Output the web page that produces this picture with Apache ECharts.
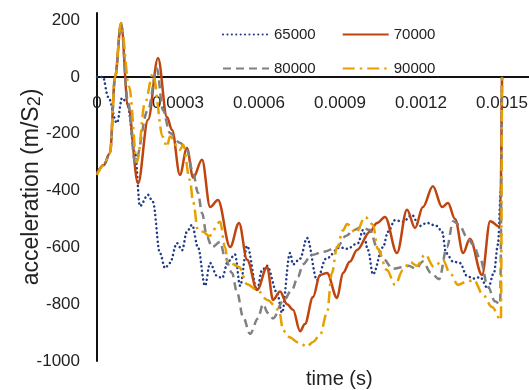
<!DOCTYPE html>
<html>
<head>
<meta charset="utf-8">
<script src="https://cdn.jsdelivr.net/npm/echarts@6/dist/echarts.min.js"></script>
<style>
html, body { margin: 0; padding: 0; background: #fff; }
#chart { width: 529px; height: 390px; }
</style>
</head>
<body>
<div id="chart"></div>
<script>
// [time (s), acceleration (m/s2)]
const s65000 = [
  [0, 0], [0.000022, 0], [0.000041, -70], [0.000074, -162], [0.000093, -74],
  [0.000111, -92], [0.000141, -268], [0.000159, -455], [0.000189, -415], [0.000207, -440],
  [0.000233, -620], [0.000252, -673], [0.00027, -655], [0.000296, -585], [0.000315, -610],
  [0.000333, -545], [0.000352, -521], [0.000374, -600], [0.0004, -735], [0.000419, -655],
  [0.000444, -700], [0.000463, -708], [0.000485, -650], [0.000511, -625], [0.00053, -735],
  [0.000556, -595], [0.000593, -750], [0.000611, -680], [0.00063, -665], [0.000667, -760],
  [0.000685, -830], [0.000715, -620], [0.000726, -660], [0.000752, -640], [0.000778, -567],
  [0.000815, -715], [0.000848, -640], [0.0009, -600], [0.000926, -605], [0.000967, -585],
  [0.000985, -539], [0.001004, -610], [0.001022, -695], [0.001059, -600], [0.001078, -545],
  [0.001104, -504], [0.001133, -510], [0.001167, -486], [0.001193, -525], [0.001222, -514],
  [0.001259, -525], [0.001278, -545], [0.001293, -620], [0.001319, -650], [0.001344, -655],
  [0.00137, -700], [0.001393, -710], [0.001419, -705], [0.001448, -745], [0.00147, -690],
  [0.001485, -590], [0.001496, -400], [0.0015, 0]
]
const s70000 = [
  [0, -340], [0.000025, -310], [0.000048, -268], [0.000067, 0], [0.000089, 190],
  [0.000115, -105], [0.000152, -375], [0.000189, -151], [0.000226, 67], [0.000259, -141],
  [0.000278, -187], [0.000307, -345], [0.000333, -250], [0.000356, -355], [0.000389, -292],
  [0.000419, -458], [0.000448, -433], [0.000493, -599], [0.000526, -514], [0.000556, -644],
  [0.000593, -750], [0.00063, -669], [0.000652, -785], [0.000678, -755], [0.000704, -800],
  [0.000726, -820], [0.000752, -895], [0.00077, -870], [0.0008, -775], [0.000826, -697],
  [0.000852, -690], [0.000889, -778], [0.000911, -690], [0.000937, -650], [0.000963, -609],
  [0.001011, -545], [0.001037, -514], [0.001067, -493], [0.001111, -620], [0.001148, -468],
  [0.001178, -532], [0.001207, -458], [0.001244, -385], [0.001278, -458], [0.0013, -444],
  [0.001326, -500], [0.001356, -620], [0.001381, -570], [0.001426, -697], [0.001456, -508],
  [0.001493, -528], [0.0015, 0]
]
const s80000 = [
  [0, -340], [0.000025, -310], [0.000048, -270], [0.000067, 0], [0.000089, 185],
  [0.000115, -90], [0.000141, -300], [0.000189, -116], [0.000222, 30], [0.000244, -116],
  [0.00027, -197], [0.000307, -232], [0.000333, -257], [0.000356, -338], [0.000374, -408],
  [0.000389, -479], [0.000407, -563], [0.000426, -599], [0.000456, -581], [0.000474, -634],
  [0.0005, -690], [0.000519, -760], [0.000541, -845], [0.000567, -905], [0.000596, -850],
  [0.000615, -800], [0.000633, -831], [0.000652, -850], [0.000689, -790], [0.000722, -750],
  [0.000744, -704], [0.000763, -660], [0.000794, -627], [0.000841, -615], [0.000889, -600],
  [0.000922, -560], [0.000952, -539], [0.000978, -528], [0.001011, -539], [0.001037, -599],
  [0.001059, -640], [0.001096, -675], [0.001133, -670], [0.001154, -665], [0.001181, -675],
  [0.001207, -650], [0.001237, -690], [0.001267, -712], [0.001296, -600], [0.001319, -508],
  [0.001341, -520], [0.00137, -563], [0.001393, -590], [0.001419, -640], [0.001448, -739],
  [0.001474, -790], [0.001493, -800], [0.0015, 0]
]
const s90000 = [
  [0, -345], [0.000025, -312], [0.000048, -270], [0.000067, 0], [0.000089, 190],
  [0.000119, -35], [0.000148, -300], [0.000178, -90], [0.000207, 10], [0.000244, -211],
  [0.000259, -246], [0.00027, -210], [0.000307, -257], [0.000319, -239], [0.000344, -363],
  [0.000356, -440], [0.000374, -540], [0.000393, -545], [0.000415, -560], [0.000456, -510],
  [0.000474, -599], [0.000485, -650], [0.000526, -669], [0.000556, -730], [0.000593, -750],
  [0.00063, -785], [0.000674, -820], [0.000689, -891], [0.000707, -915], [0.000752, -937],
  [0.000777, -950], [0.0008, -933], [0.000826, -908], [0.000852, -830], [0.00087, -690],
  [0.000889, -600], [0.000911, -540], [0.000926, -518], [0.000959, -549], [0.000993, -493],
  [0.001022, -520], [0.00104, -605], [0.001074, -680], [0.001104, -732], [0.001133, -680],
  [0.001159, -651], [0.001185, -665], [0.001215, -625], [0.001248, -669], [0.001281, -644],
  [0.001307, -690], [0.001337, -732], [0.001366, -722], [0.001396, -715], [0.00143, -768],
  [0.001463, -810], [0.001496, -856], [0.0015, 0]
]
const seriesNames = ['65000', '70000', '80000', '90000']

const font = 'Liberation Sans, Arial, sans-serif'
let chart = echarts.init(document.getElementById('chart'))

let makeLine = function (name, data, color, dash, cap) {
  return {
    name: name,
    type: 'line',
    data: data,
    symbol: 'none',
    smooth: 0.35,
    smoothMonotone: 'x',
    lineStyle: { color: color, width: 2.5, type: dash, cap: cap },
    itemStyle: { color: color }
  }
}

let legendBase = {
  orient: 'horizontal',
  itemWidth: 46,
  itemHeight: 14,
  itemGap: 26,
  left: 217,
  itemStyle: { color: 'transparent', borderColor: 'transparent', borderWidth: 0 },
  textStyle: { fontSize: 15, color: '#222', fontFamily: font }
}

let option = {
  animation: false,
  backgroundColor: '#fff',
  grid: { left: 97, right: 0, top: 13, bottom: 29, containLabel: false, outerBoundsMode: 'none' },
  legend: [
    Object.assign({}, legendBase, { top: 22, data: [seriesNames[0], seriesNames[1]] }),
    Object.assign({}, legendBase, { top: 56, data: [seriesNames[2], seriesNames[3]] })
  ],
  xAxis: {
    type: 'value',
    min: 0,
    max: 0.0016,
    interval: 0.0003,
    // axis sits at y = 0, labels just under it
    position: 'top',
    offset: -64,
    axisLine: { onZero: false, lineStyle: { color: '#111', width: 2 } },
    axisTick: { show: false },
    splitLine: { show: false },
    axisLabel: {
      inside: true,
      showMaxLabel: false,
      margin: 18,
      fontSize: 17,
      color: '#222',
      fontFamily: font,
      formatter: function (v) { return v === 0 ? '0' : v.toFixed(4) }
    }
  },
  yAxis: {
    type: 'value',
    min: -1000,
    max: 225,
    interval: 200,
    name: 'acceleration (m/S{s|2})',
    nameLocation: 'middle',
    nameGap: 53,
    nameMoveOverlap: false,
    nameTextStyle: {
      fontSize: 23,
      color: '#222',
      fontFamily: font,
      rich: { s: { fontSize: 18, color: '#222', fontFamily: font, verticalAlign: 'bottom', padding: [6, 0, 0, 0] } }
    },
    axisLine: { onZero: false, lineStyle: { color: '#111', width: 2 } },
    axisTick: { show: false },
    splitLine: { show: false },
    axisLabel: {
      showMaxLabel: false,
      margin: 17,
      fontSize: 17,
      color: '#222',
      fontFamily: font,
      formatter: function (v) { return String(v) }
    }
  },
  graphic: [
    {
      type: 'text',
      left: 306,
      top: 369,
      style: { text: 'time (s)', fontSize: 20, fontFamily: font, fill: '#222' }
    }
  ],
  series: [
    makeLine(seriesNames[0], s65000, '#1f3c88', [0.1, 4.3], 'round'),
    makeLine(seriesNames[1], s70000, '#c0440e', 'solid', 'butt'),
    makeLine(seriesNames[2], s80000, '#808080', [8, 5], 'butt'),
    makeLine(seriesNames[3], s90000, '#e6a000', [12, 5, 2.5, 5], 'butt')
  ]
}
chart.setOption(option)
</script>
</body>
</html>
